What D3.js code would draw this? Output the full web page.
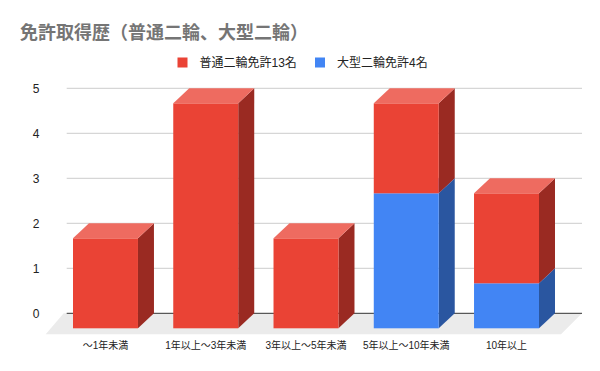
<!DOCTYPE html>
<html><head><meta charset="utf-8">
<script src="https://cdn.jsdelivr.net/npm/d3@7"></script>
<style>body{margin:0;background:#fff}svg{display:block}</style>
</head><body>
<svg id="c" width="600" height="371"></svg>
<script>
const categories = ["～1年未満","1年以上～3年未満","3年以上～5年未満","5年以上～10年未満","10年以上"];
const futsuu = [2,5,2,2,2];   // 普通二輪免許13名
const oogata = [0,0,0,3,1];   // 大型二輪免許4名
const seriesNames = ["普通二輪免許13名","大型二輪免許4名"];
const yTicks = [0,1,2,3,4,5];
const title = "免許取得歴（普通二輪、大型二輪）";

const FONT = "'Liberation Sans','Noto Sans CJK JP',Arial,sans-serif";
const svg = d3.select("#c");
const colors = {
  red:  {front:"#ea4335", top:"#ee6b60", side:"#9a2a22"},
  blue: {front:"#4285f4", top:"#6c9ef6", side:"#2a56a0"}
};
const y = d3.scaleLinear().domain([0,5]).range([313.3,88.3]);
const x = d3.scaleBand().domain(categories).range([73,539]).paddingInner(0.352).paddingOuter(0);
const dx = 16, dy = 15;
const gx0 = 66.7, gx1 = 582;

// title
svg.append("text").attr("x",20).attr("y",38.5).text(title)
  .attr("font-family",FONT).attr("font-size",18).attr("font-weight","bold").attr("fill","#757575");

// legend
const leg = [{n:seriesNames[0],c:colors.red.front,x:177.5},{n:seriesNames[1],c:colors.blue.front,x:315}];
leg.forEach(l=>{
  svg.append("rect").attr("x",l.x).attr("y",57.5).attr("width",10).attr("height",10).attr("fill",l.c);
  svg.append("text").attr("x",l.x+22).attr("y",66.8).text(l.n)
    .attr("font-family",FONT).attr("font-size",12).attr("fill","#222");
});

// floor
svg.append("path")
  .attr("d",`M${gx0-3},${y(0)} L${gx1},${y(0)} L${gx1-21},${y(0)+21} L${gx0-21},${y(0)+21} Z`)
  .attr("fill","#ebebeb");

// gridlines
svg.append("g").selectAll("line").data(yTicks.filter(t=>t>0)).join("line")
  .attr("x1",gx0).attr("x2",gx1).attr("y1",d=>y(d)).attr("y2",d=>y(d))
  .attr("stroke","#cccccc").attr("stroke-width",1);
svg.append("line").attr("x1",gx0).attr("x2",gx1).attr("y1",y(0)).attr("y2",y(0))
  .attr("stroke","#333").attr("stroke-width",1);

// y labels
svg.append("g").selectAll("text").data(yTicks).join("text")
  .attr("x",39.5).attr("y",d=>y(d)).attr("dy","0.35em").attr("text-anchor","end")
  .text(d=>d).attr("font-family",FONT).attr("font-size",12).attr("fill","#222");

// bars
const stacked = categories.map((c,i)=>{
  const segs = [];
  let base = 0;
  if (oogata[i]>0){ segs.push({v0:base,v1:base+oogata[i],col:colors.blue}); base+=oogata[i]; }
  if (futsuu[i]>0){ segs.push({v0:base,v1:base+futsuu[i],col:colors.red}); base+=futsuu[i]; }
  return {c,segs};
});
const gb = svg.append("g");
stacked.forEach(b=>{
  const fx0 = x(b.c), fx1 = x(b.c)+x.bandwidth();
  b.segs.forEach(s=>{
    const ft = y(s.v1)+dy, fb = y(s.v0)+dy;
    // side
    gb.append("path").attr("d",`M${fx1},${fb} L${fx1+dx},${fb-dy} L${fx1+dx},${ft-dy} L${fx1},${ft} Z`)
      .attr("fill",s.col.side);
    // front
    gb.append("rect").attr("x",fx0).attr("y",ft).attr("width",fx1-fx0).attr("height",fb-ft)
      .attr("fill",s.col.front);
    // top
    gb.append("path").attr("d",`M${fx0},${ft} L${fx0+dx},${ft-dy} L${fx1+dx},${ft-dy} L${fx1},${ft} Z`)
      .attr("fill",s.col.top);
  });
});

// x labels
svg.append("g").selectAll("text").data(categories).join("text")
  .attr("x",d=>x(d)+x.bandwidth()/2).attr("y",349).attr("text-anchor","middle")
  .text(d=>d).attr("font-family",FONT).attr("font-size",10).attr("fill","#222");
</script>
</body></html>
